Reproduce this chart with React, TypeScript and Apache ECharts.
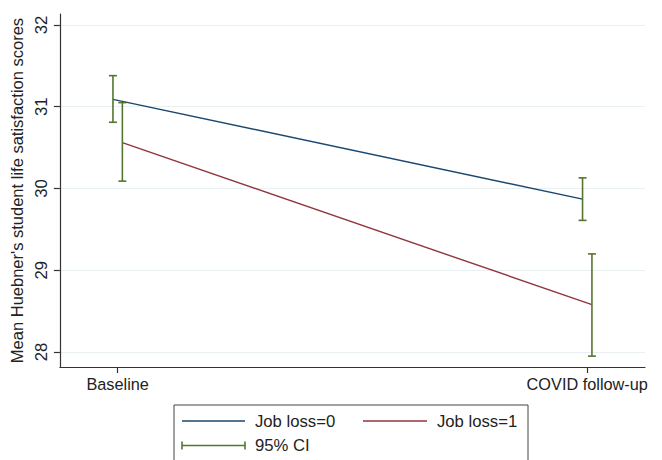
import React, { useEffect, useRef } from "react";
import * as echarts from "echarts";

const categories = ["Baseline", "COVID follow-up"];
const seriesNames = ["Job loss=0", "Job loss=1"];
const ciName = "95% CI";
const job0Mean = [31.09, 29.87];
const job0Low = [30.81, 29.61];
const job0High = [31.38, 30.13];
const job1Mean = [30.56, 28.58];
const job1Low = [30.09, 27.95];
const job1High = [31.05, 29.2];
const yTicks = [28, 29, 30, 31, 32];

const FONT = "'Liberation Sans', Arial, sans-serif";
const BLUE = "#1a476f";
const RED = "#90353b";
const GREEN = "#55752f";
const DODGE = 0.01;

export default function App() {
  const ref = useRef<HTMLDivElement>(null);
  useEffect(() => {
    document.body.style.margin = "0";
    const chart = echarts.init(ref.current!, null, { renderer: "svg" });
    const xs = categories.map((_, i) => i);
    const meanData = (arr: number[], off: number) => arr.map((v, i) => [xs[i] + off, v]);
    const ciData = [
      ...job0Low.map((l, i) => [xs[i] - DODGE, l, job0High[i]]),
      ...job1Low.map((l, i) => [xs[i] + DODGE, l, job1High[i]]),
    ];
    const legendText = (text: string, x: number, y: number) => ({
      type: "text",
      x,
      y,
      style: { text, fontFamily: FONT, fontSize: 16.7, fill: "#222", verticalAlign: "middle" },
    });
    chart.setOption({
      animation: false,
      backgroundColor: "#ffffff",
      grid: { left: 58, right: 17, top: 14, bottom: 93 },
      xAxis: {
        type: "value",
        min: -0.123,
        max: 1.123,
        axisLine: { show: true, onZero: false, lineStyle: { color: "#333", width: 1.2 } },
        axisTick: { show: true, length: 6, customValues: xs, lineStyle: { color: "#333", width: 1.2 } },
        axisLabel: {
          customValues: xs,
          formatter: (v: number) => categories[Math.round(v)] ?? "",
          fontFamily: FONT,
          fontSize: 16.3,
          color: "#222",
          margin: 9,
        },
        splitLine: { show: false },
      },
      yAxis: {
        type: "value",
        min: 27.817,
        max: 32.134,
        name: "Mean Huebner's student life satisfaction scores",
        nameLocation: "middle",
        nameGap: 23,
        nameTextStyle: { fontFamily: FONT, fontSize: 16.5, color: "#222" },
        axisLine: { show: true, onZero: false, lineStyle: { color: "#333", width: 1.2 } },
        axisTick: { show: true, length: 6, customValues: yTicks, lineStyle: { color: "#333", width: 1.2 } },
        axisLabel: {
          customValues: yTicks,
          rotate: 90,
          fontFamily: FONT,
          fontSize: 16.7,
          color: "#222",
          margin: 10,
        },
        splitLine: { show: true, lineStyle: { color: "#e8f0f2", width: 1.2 } },
      },
      series: [
        {
          name: seriesNames[0],
          type: "line",
          data: meanData(job0Mean, -DODGE),
          showSymbol: false,
          lineStyle: { color: BLUE, width: 1.4 },
          z: 3,
        },
        {
          name: seriesNames[1],
          type: "line",
          data: meanData(job1Mean, DODGE),
          showSymbol: false,
          lineStyle: { color: RED, width: 1.4 },
          z: 3,
        },
        {
          name: ciName,
          type: "custom",
          data: ciData,
          z: 4,
          renderItem: (params: any, api: any) => {
            const x = api.value(0);
            const top = api.coord([x, api.value(2)]);
            const bot = api.coord([x, api.value(1)]);
            const style = { stroke: GREEN, lineWidth: 1.6, fill: null };
            const hw = 4;
            return {
              type: "group",
              children: [
                { type: "line", shape: { x1: top[0], y1: top[1], x2: bot[0], y2: bot[1] }, style },
                { type: "line", shape: { x1: top[0] - hw, y1: top[1], x2: top[0] + hw, y2: top[1] }, style },
                { type: "line", shape: { x1: bot[0] - hw, y1: bot[1], x2: bot[0] + hw, y2: bot[1] }, style },
              ],
            };
          },
        },
      ],
      graphic: [
        {
          type: "rect",
          shape: { x: 174, y: 405, width: 354, height: 80 },
          style: { fill: "#fff", stroke: "#444", lineWidth: 1 },
        },
        { type: "line", shape: { x1: 182, y1: 421, x2: 245, y2: 421 }, style: { stroke: BLUE, lineWidth: 1.4 } },
        legendText(seriesNames[0], 255, 421),
        { type: "line", shape: { x1: 363, y1: 421, x2: 427, y2: 421 }, style: { stroke: RED, lineWidth: 1.4 } },
        legendText(seriesNames[1], 437, 421),
        { type: "line", shape: { x1: 182, y1: 445.5, x2: 245, y2: 445.5 }, style: { stroke: GREEN, lineWidth: 1.6 } },
        { type: "line", shape: { x1: 182, y1: 441.5, x2: 182, y2: 449.5 }, style: { stroke: GREEN, lineWidth: 1.6 } },
        { type: "line", shape: { x1: 245, y1: 441.5, x2: 245, y2: 449.5 }, style: { stroke: GREEN, lineWidth: 1.6 } },
        legendText(ciName, 255, 445.5),
      ],
    });
    return () => chart.dispose();
  }, []);
  return <div ref={ref} style={{ width: 662, height: 460 }} />;
}
